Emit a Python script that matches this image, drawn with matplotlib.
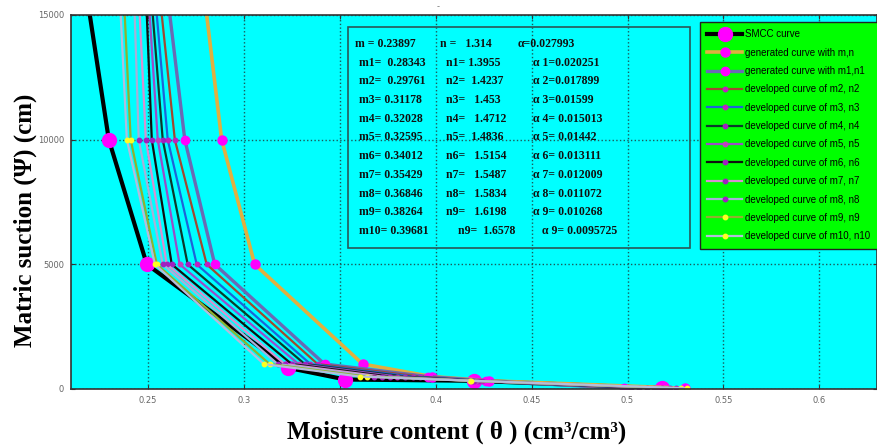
import matplotlib
matplotlib.use('Agg')
import matplotlib.pyplot as plt
from matplotlib.patches import Rectangle

# ---- data ----
psi_smcc = [15000, 10000, 5000, 850, 380, 330, 30]
theta_smcc = [0.2198, 0.2297, 0.2495, 0.323, 0.353, 0.420, 0.518]

psi_fit = [15000, 10000, 5000, 1000, 500, 330, 30]
theta_gen = [0.2807, 0.2885, 0.3057, 0.362, 0.398, 0.428, 0.530]

# generated curve with m1,n1 followed by developed curves m2..m10
theta_dev = {
    'm1': [0.2615, 0.2693, 0.2849, 0.3421, 0.396, 0.426, 0.498],
    'm2': [0.2573, 0.2641, 0.2807, 0.3385, 0.392, 0.424, 0.502],
    'm3': [0.2547, 0.2604, 0.2755, 0.3348, 0.388, 0.423, 0.506],
    'm4': [0.2526, 0.2578, 0.2708, 0.3318, 0.384, 0.422, 0.510],
    'm5': [0.2510, 0.2552, 0.2666, 0.3286, 0.380, 0.421, 0.514],
    'm6': [0.2495, 0.2521, 0.2625, 0.3250, 0.376, 0.420, 0.518],
    'm7': [0.2458, 0.2490, 0.2599, 0.3214, 0.372, 0.419, 0.522],
    'm8': [0.2432, 0.2453, 0.2578, 0.3177, 0.368, 0.419, 0.525],
    'm9': [0.2380, 0.2411, 0.2547, 0.3135, 0.364, 0.418, 0.528],
    'm10': [0.2359, 0.2391, 0.2537, 0.3105, 0.3605, 0.4186, 0.531],
}

param_m = ['m = 0.23897', 'm1=  0.28343', 'm2=  0.29761', 'm3= 0.31178', 'm4= 0.32028',
           'm5= 0.32595', 'm6= 0.34012', 'm7= 0.35429', 'm8= 0.36846', 'm9= 0.38264',
           'm10= 0.39681']
param_n = ['n =   1.314', 'n1= 1.3955', 'n2=  1.4237', 'n3=   1.453', 'n4=   1.4712',
           'n5=  1.4836', 'n6=   1.5154', 'n7=   1.5487', 'n8=   1.5834', 'n9=   1.6198',
           'n9=  1.6578']
param_a = ['α=0.027993', 'α 1=0.020251', 'α 2=0.017899', 'α 3=0.01599', 'α 4= 0.015013',
           'α 5= 0.01442', 'α 6= 0.013111', 'α 7= 0.012009', 'α 8= 0.011072',
           'α 9= 0.010268', 'α 9= 0.0095725']

legend_labels = ['SMCC curve', 'generated curve with m,n', 'generated curve with m1,n1'] + \
    ['developed curve of m%d, n%d' % (i, i) for i in range(2, 11)]

x_ticks = [0.25, 0.3, 0.35, 0.4, 0.45, 0.5, 0.55, 0.6]
x_tick_labels = ['0.25', '0.3', '0.35', '0.4', '0.45', '0.5', '0.55', '0.6']
y_ticks = [0, 5000, 10000, 15000]
y_tick_labels = ['0', '5000', '10000', '15000']

# ---- styles ----
dev_colors = ['#6a6ab4', '#a04a30', '#1e64d8', '#0c3a2c', '#9a4cc8', '#101010',
              '#d890d0', '#a8b0d8', '#90b030', '#b4bcdc']
dev_mcolors = ['magenta', '#c020c0', '#c020c0', '#a020c0', '#c040c0', '#a020c0',
               '#a020c0', '#a020c0', '#ffff20', '#ffff20']

fig = plt.figure(figsize=(8.77, 4.46), dpi=100)
fig.patch.set_facecolor('white')
W, H = 877, 446
L, R, T, B = 71, 877, 15, 389
ax = fig.add_axes([L / W, (H - B) / H, (R - L) / W, (B - T) / H])
ax.set_facecolor('#00ffff')

skip_top = list(range(1, len(psi_fit)))

# SMCC first (underneath, as plotted first), then generated, then developed
h_smcc, = ax.plot(theta_smcc, psi_smcc, color='black', lw=3, marker='o', ms=10,
                  mfc='magenta', mec='magenta', markevery=skip_top, zorder=2)
h_gen, = ax.plot(theta_gen, psi_fit, color='#e0b040', lw=2.6, marker='o', ms=6.5,
                 mfc='magenta', mec='magenta', markevery=skip_top, zorder=2.1)

keys = list(theta_dev.keys())
dev_handles = {}
for idx, k in enumerate(keys):
    big = idx == 0
    h, = ax.plot(theta_dev[k], psi_fit, color=dev_colors[idx],
                 lw=2.4 if big else 1.6, marker='o', markevery=skip_top,
                 ms=6 if big else 3.2, mfc=dev_mcolors[idx], mec=dev_mcolors[idx],
                 zorder=2.2 + idx * 0.01)
    dev_handles[k] = h

handles = [h_smcc, h_gen] + [dev_handles[k] for k in keys]

ax.set_xlim(0.21, 0.63)
ax.set_ylim(0, 15000)
ax.set_xticks(x_ticks)
ax.set_xticklabels(x_tick_labels)
ax.set_yticks(y_ticks)
ax.set_yticklabels(y_tick_labels)
ax.tick_params(direction='in', labelsize=6, labelcolor='#666666', length=3, pad=5,
               top=True, right=True, color='#333333')
ax.grid(True, linestyle=':', color='#1a5a5a', lw=1.0)
for s in ax.spines.values():
    s.set_color('#333333')
    s.set_linewidth(1.2)

fig.text(457 / W, 1 - 432 / H, 'Moisture content ( θ ) (cm³/cm³)', family='Liberation Serif',
         fontweight='bold', fontsize=18, ha='center', va='center')
fig.text(25 / W, 1 - 220 / H, 'Matric suction (Ψ) (cm)', family='Liberation Serif',
         fontweight='bold', fontsize=18, ha='center', va='center', rotation=90)

# parameter text box
def ax_xy(px, py):
    return (px - L) / (R - L), (B - py) / (B - T)

x0, y0 = ax_xy(348, 248)
x1, y1 = ax_xy(690, 27)
ax.add_patch(Rectangle((x0, y0), x1 - x0, y1 - y0, transform=ax.transAxes,
                       fill=False, edgecolor='#2a5858', lw=1.2, zorder=6))
col_x = [(355, 440, 518)] + [(359, 446, 533)] * 9 + [(359, 458, 542)]
for i in range(len(param_m)):
    py = 44 + 18.7 * i
    for txt, px in zip((param_m[i], param_n[i], param_a[i]), col_x[i]):
        tx, ty = ax_xy(px, py)
        ax.text(tx, ty, txt, transform=ax.transAxes, family='Liberation Serif',
                fontweight='bold', fontsize=8.5, va='center', ha='left',
                color='#101010', zorder=7)

lx, ly = ax_xy(700, 22)
leg = ax.legend(handles, legend_labels, loc='upper left', bbox_to_anchor=(lx, ly),
                bbox_transform=ax.transAxes, borderaxespad=0, fancybox=False,
                facecolor='#00ff00', edgecolor='#222222', framealpha=1,
                prop={'family': 'Liberation Sans', 'size': 7.0},
                handlelength=3.6, handletextpad=0.3, labelspacing=0.86, borderpad=0.75)
leg.get_frame().set_linewidth(1.0)
leg.set_zorder(8)

fig.text(438 / W, 1 - 7 / H, '-', fontsize=6, color='#777777', ha='center', va='center')

fig.savefig('out.png', dpi=100)
